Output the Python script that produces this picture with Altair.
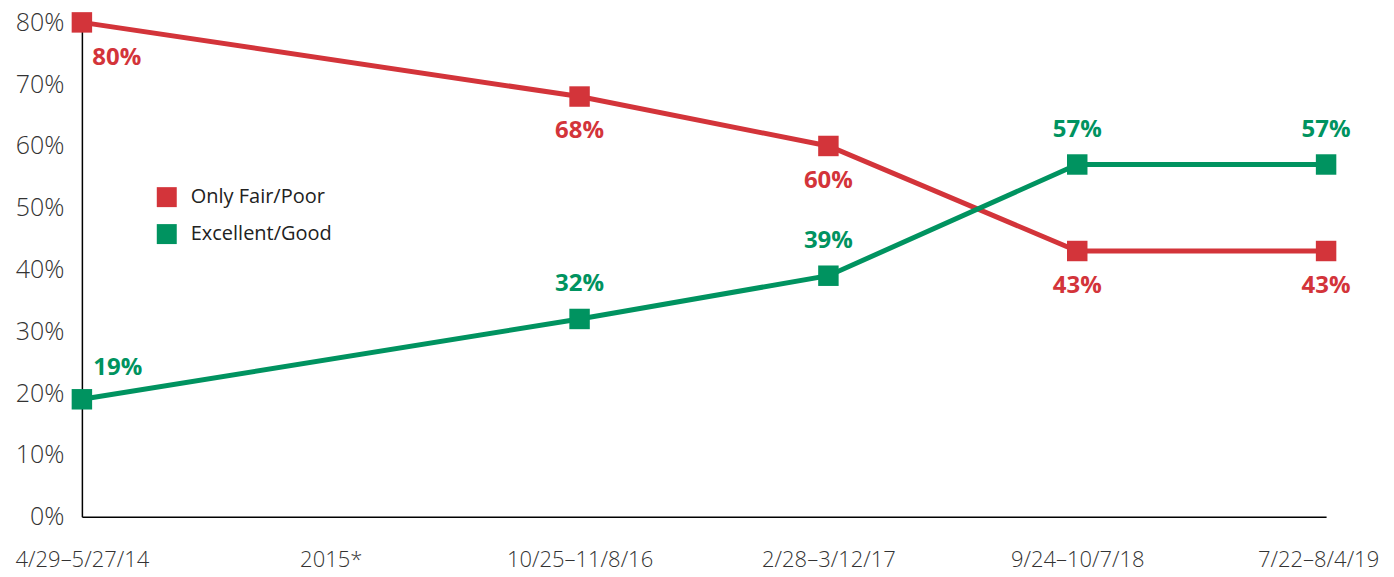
import altair as alt
import pandas as pd

categories = ["4/29–5/27/14", "2015*", "10/25–11/8/16", "2/28–3/12/17", "9/24–10/7/18", "7/22–8/4/19"]
data_cats = ["4/29–5/27/14", "10/25–11/8/16", "2/28–3/12/17", "9/24–10/7/18", "7/22–8/4/19"]
fair_poor = [80, 68, 60, 43, 43]
excellent_good = [19, 32, 39, 57, 57]
series_names = ["Only Fair/Poor", "Excellent/Good"]
colors = ["#D3343A", "#009360"]

rows = []
for i, c in enumerate(data_cats):
    rows.append({"cat": c, "idx": i, "series": series_names[0], "value": fair_poor[i], "label": f"{fair_poor[i]}%"})
    rows.append({"cat": c, "idx": i, "series": series_names[1], "value": excellent_good[i], "label": f"{excellent_good[i]}%"})
df = pd.DataFrame(rows)

FONT = "Open Sans"

x = alt.X("cat:N", sort=categories, scale=alt.Scale(domain=categories, type="point", padding=0),
          axis=alt.Axis(title=None, labelAngle=0, ticks=False, domainColor="#000", domainWidth=1.5,
                        labelFontSize=22, labelColor="#333", labelPadding=33, labelFont=FONT,
                        labelFontWeight=300,
                        labelOffset={"condition": {"test": "datum.value == '7/22–8/4/19'", "value": -8}, "value": 0}))
y = alt.Y("value:Q", scale=alt.Scale(domain=[0, 80], nice=False),
          axis=alt.Axis(title=None, values=list(range(0, 81, 10)), labelExpr="datum.value + '%'",
                        ticks=False, grid=False, domainColor="#000", domainWidth=1.5,
                        labelFontSize=25, labelColor="#333", labelPadding=18, labelFont=FONT,
                        labelFontWeight=300))
color = alt.Color("series:N", scale=alt.Scale(domain=series_names, range=colors),
                  legend=alt.Legend(title=None, orient="none", legendX=75, legendY=165,
                                    symbolType="square", symbolSize=400, symbolStrokeWidth=0,
                                    labelFontSize=20, labelFont=FONT, labelColor="#222",
                                    rowPadding=17, labelOffset=14))

base = alt.Chart(df)

lines = base.mark_line(strokeWidth=5).encode(x=x, y=y, color=color, order="idx:Q")
points = base.mark_point(shape="square", size=420, filled=True, opacity=1).encode(x=x, y=y, color=color)

lab_style = dict(fontSize=24, fontWeight="bold", font=FONT)
text_color = alt.Color("series:N", scale=alt.Scale(domain=series_names, range=colors), legend=None)

red_mid = base.transform_filter(
    (alt.datum.series == series_names[0]) & (alt.datum.idx > 0)
).mark_text(dy=35, **lab_style).encode(x=x, y=y, text="label:N", color=text_color)
green_mid = base.transform_filter(
    (alt.datum.series == series_names[1]) & (alt.datum.idx > 0)
).mark_text(dy=-35, **lab_style).encode(x=x, y=y, text="label:N", color=text_color)
red_first = base.transform_filter(
    (alt.datum.series == series_names[0]) & (alt.datum.idx == 0)
).mark_text(dy=36, dx=35, **lab_style).encode(x=x, y=y, text="label:N", color=text_color)
green_first = base.transform_filter(
    (alt.datum.series == series_names[1]) & (alt.datum.idx == 0)
).mark_text(dy=-31, dx=36, **lab_style).encode(x=x, y=y, text="label:N", color=text_color)

chart = alt.layer(lines, points, red_mid, green_mid, red_first, green_first).properties(
    width=1246, height=495,
    autosize=alt.AutoSizeParams(type="none"),
    padding={"left": 74, "top": 14, "right": 60, "bottom": 62},
).configure(font=FONT).configure_view(stroke=None, strokeWidth=0)

chart.save("out.html", embed_options={"renderer": "svg", "actions": False})
